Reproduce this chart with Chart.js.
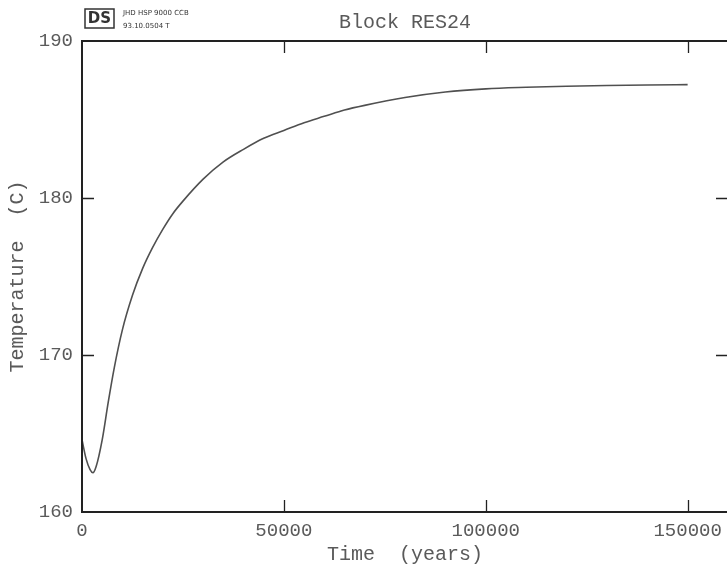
<!DOCTYPE html>
<html>
<head>
<meta charset="utf-8">
<script src="https://cdn.jsdelivr.net/npm/chart.js@4/dist/chart.umd.min.js"></script>
<style>
  html, body { margin: 0; padding: 0; background: #fff; overflow: hidden; }
  canvas { display: block; }
</style>
</head>
<body>
<canvas id="graph" width="740" height="566"></canvas>
<script>
// values
const years = [0, 1000, 2000, 2700, 3500, 5000, 6500, 8000, 10000, 12500, 15000, 17500,
  20000, 22500, 25000, 30000, 35000, 40000, 45000, 50000, 55000, 60000, 65000, 70000,
  80000, 90000, 100000, 110000, 120000, 130000, 140000, 150000]
const temperature = [164.6, 163.4, 162.7, 162.5, 162.9, 164.6, 167.0, 169.2, 171.6, 173.8, 175.5, 176.85,
  178.0, 179.0, 179.8, 181.2, 182.3, 183.1, 183.8, 184.3, 184.8, 185.2, 185.6, 185.9,
  186.4, 186.75, 186.95, 187.05, 187.12, 187.17, 187.2, 187.22]
const xTicks = [0, 50000, 100000, 150000]
const yTicks = [160, 170, 180, 190]
const xInnerTicks = [50000, 100000, 150000]
const yInnerTicks = [170, 180]

const ink = '#5a5a5a'
const fontFam = '"Liberation Mono", "DejaVu Sans Mono", monospace'

// frame, inward ticks and the little stamp at the top left
const plotterFrame = {
  id: 'plotterFrame',
  afterDraw(chart) {
    const ctx = chart.ctx
    const a = chart.chartArea
    const x = chart.scales.x, y = chart.scales.y
    ctx.save()
    ctx.strokeStyle = '#222'
    ctx.lineWidth = 2
    ctx.strokeRect(a.left, a.top, a.right - a.left, a.bottom - a.top)
    ctx.lineWidth = 1.3
    ctx.beginPath()
    xInnerTicks.forEach(v => {
      const px = Math.round(x.getPixelForValue(v)) + 0.5
      ctx.moveTo(px, a.bottom); ctx.lineTo(px, a.bottom - 12)
      ctx.moveTo(px, a.top); ctx.lineTo(px, a.top + 12)
    })
    yInnerTicks.forEach(v => {
      const py = Math.round(y.getPixelForValue(v)) + 0.5
      ctx.moveTo(a.left, py); ctx.lineTo(a.left + 12, py)
      ctx.moveTo(a.right, py); ctx.lineTo(a.right - 12, py)
    })
    ctx.stroke()

    // stamp
    ctx.strokeStyle = '#333'
    ctx.lineWidth = 1.5
    ctx.strokeRect(85, 9, 29, 19)
    ctx.fillStyle = '#333'
    ctx.font = 'bold 15px "DejaVu Sans", sans-serif'
    ctx.textBaseline = 'middle'
    ctx.textAlign = 'center'
    ctx.fillText('DS', 99.5, 19)
    ctx.font = '7px "DejaVu Sans", sans-serif'
    ctx.textAlign = 'left'
    ctx.fillText('JHD HSP 9000 CCB', 123, 13)
    ctx.fillText('93.10.0504 T', 123, 26)
    ctx.restore()
  }
}

const points = years.map((t, i) => ({ x: t, y: temperature[i] }))

const ctx = document.getElementById('graph').getContext('2d')
const chart = new Chart(ctx, {
  type: 'line',
  data: {
    datasets: [{
      data: points,
      borderColor: '#505050',
      borderWidth: 1.6,
      pointRadius: 0,
      fill: false,
      cubicInterpolationMode: 'monotone'
    }]
  },
  options: {
    responsive: false,
    animation: false,
    layout: { padding: { top: 0, right: 12, left: 0, bottom: 0 } },
    plugins: {
      legend: { display: false },
      tooltip: { enabled: false },
      title: {
        display: true,
        text: 'Block RES24',
        fullSize: false,
        color: ink,
        font: { family: fontFam, size: 20, weight: 'normal', lineHeight: 1.2 },
        padding: { top: 11, bottom: 6 }
      }
    },
    scales: {
      x: {
        type: 'linear',
        min: 0,
        max: 160000,
        afterBuildTicks: s => { s.ticks = xTicks.map(v => ({ value: v })) },
        afterFit: s => { s.height = 54 },
        grid: { display: false, drawTicks: false },
        border: { display: false },
        ticks: {
          color: ink,
          padding: 8,
          maxRotation: 0,
          autoSkip: false,
          font: { family: fontFam, size: 19 },
          callback: v => String(v)
        },
        title: {
          display: true,
          text: 'Time  (years)',
          color: ink,
          font: { family: fontFam, size: 20, lineHeight: 1 },
          padding: { top: 0, bottom: 1 }
        }
      },
      y: {
        min: 160,
        max: 190,
        afterBuildTicks: s => { s.ticks = yTicks.map(v => ({ value: v })) },
        afterFit: s => { s.width = 82 },
        grid: { display: false, drawTicks: false },
        border: { display: false },
        ticks: {
          color: ink,
          padding: 9,
          autoSkip: false,
          font: { family: fontFam, size: 19 },
          callback: v => String(v)
        },
        title: {
          display: true,
          text: 'Temperature  (C)',
          color: ink,
          font: { family: fontFam, size: 20, lineHeight: 1.2 },
          padding: { top: 6, bottom: 0 }
        }
      }
    }
  },
  plugins: [plotterFrame]
})
</script>
</body>
</html>
